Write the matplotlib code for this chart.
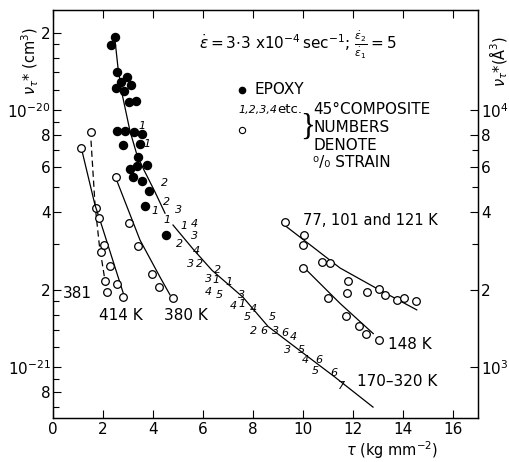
import matplotlib
matplotlib.use("Agg")
import matplotlib.pyplot as plt
from matplotlib.ticker import FixedLocator, FixedFormatter, NullFormatter

plt.rcParams['font.family'] = ['DejaVu Sans']
plt.rcParams['mathtext.fontset'] = 'dejavusans'

# ---------------- data ----------------
# Epoxy (filled dots), tau in kg/mm^2, nu* in units of 1e-21 cm^3
epoxy_x = [2.48, 2.32, 2.56, 2.96, 2.72, 2.52, 2.84, 3.12, 3.04, 3.32, 2.56, 2.88, 3.24,
           3.56, 2.80, 3.48, 3.40, 3.08, 3.36, 3.76, 3.20, 3.56, 3.84, 3.68, 4.52]
epoxy_y = [19.2, 17.9, 14.1, 13.4, 12.8, 12.2, 11.9, 12.5, 10.7, 10.8, 8.28, 8.28, 8.21,
           8.07, 7.31, 7.37, 6.56, 5.89, 6.05, 6.11, 5.49, 5.29, 4.84, 4.23, 3.26]
epoxy_fit_x = [2.48, 2.60, 2.76, 3.08, 3.36, 3.64, 4.08, 4.48]
epoxy_fit_y = [18.7, 14.6, 11.6, 8.28, 6.68, 5.84, 4.80, 3.97]

# 381 K (dashed)
k381_x = [1.51, 1.71, 1.91, 2.08, 2.15]
k381_y = [8.21, 4.16, 2.80, 2.16, 1.96]
k381_fit_x = [1.52, 1.68, 1.85, 2.12]
k381_fit_y = [7.6, 4.3, 3.0, 2.05]

# 414 K
k414_x = [1.11, 1.84, 2.05, 2.28, 2.57, 2.81]
k414_y = [7.11, 3.80, 2.98, 2.47, 2.10, 1.87]
k414_fit_x = [1.12, 1.68, 1.88, 2.81]
k414_fit_y = [7.2, 4.27, 3.73, 1.94]

# 380 K
k380_x = [2.52, 3.05, 3.39, 3.95, 4.25, 4.81]
k380_y = [5.47, 3.62, 2.96, 2.30, 2.05, 1.85]
k380_fit_x = [2.56, 3.48, 4.28, 4.68]
k380_fit_y = [5.29, 3.12, 2.24, 1.91]

# 77, 101 and 121 K
k77_x = [9.28, 10.05, 10.01, 10.75, 11.08, 11.81, 11.77, 12.55, 13.04, 13.28, 13.75, 14.05, 14.52]
k77_y = [3.68, 3.26, 2.98, 2.57, 2.53, 2.16, 1.95, 1.96, 2.01, 1.91, 1.82, 1.85, 1.80]
k77_fit_x = [9.3, 10.4, 11.48, 13.0, 14.55]
k77_fit_y = [3.54, 2.93, 2.43, 2.01, 1.67]

# 148 K
k148_x = [10.01, 11.01, 11.72, 12.24, 12.51, 13.05]
k148_y = [2.43, 1.86, 1.58, 1.44, 1.35, 1.27]
k148_fit_x = [10.15, 11.48, 12.81]
k148_fit_y = [2.38, 1.77, 1.35]

# 45 deg composite, 170-320 K: numbers denote % strain
comp_x = [3.57, 3.75, 4.48, 4.55, 5.01, 4.08, 4.55, 5.25, 5.66, 5.66, 5.05, 5.75, 5.51, 5.85,
          6.57, 6.24, 6.52, 7.05, 6.21, 6.65, 7.55, 7.21, 7.55, 8.01, 7.79, 8.79, 8.01, 8.45,
          8.91, 9.28, 9.61, 9.37, 9.92, 10.08, 10.64, 10.48, 11.25, 11.56]
comp_y = [8.67, 7.38, 5.21, 4.40, 4.08, 4.05, 3.73, 3.54, 3.60, 3.23, 3.01, 2.83, 2.51, 2.51,
          2.38, 2.21, 2.18, 2.14, 1.96, 1.91, 1.91, 1.73, 1.76, 1.68, 1.56, 1.56, 1.38, 1.38,
          1.38, 1.36, 1.31, 1.17, 1.17, 1.07, 1.07, 0.968, 0.945, 0.843]
comp_n = ['1', '1', '2', '2', '3', '1', '1', '1', '4', '3', '2', '4', '3', '2',
          '2', '3', '1', '1', '4', '5', '3', '4', '1', '4', '5', '5', '2', '6',
          '3', '6', '4', '3', '5', '4', '6', '5', '6', '7']
comp_fit_x = [4.8, 5.6, 6.36, 7.6, 8.6, 9.72, 11.28, 12.8]
comp_fit_y = [3.57, 2.88, 2.38, 1.87, 1.44, 1.19, 0.914, 0.699]

x_ticks = [0, 2, 4, 6, 8, 10, 12, 14, 16]
SCALE = 1e-21

# ---------------- figure ----------------
fig = plt.figure(figsize=(5.10, 4.62), dpi=100)
ax = fig.add_axes([53/510, 44/462, 425/510, 408/462])

def s(v):
    return [e * SCALE for e in v]

lw = 0.9
ax.plot(epoxy_fit_x, s(epoxy_fit_y), '-', color='black', lw=lw)
ax.plot(epoxy_x, s(epoxy_y), 'o', color='black', ms=5.8, mec='black')

for fx, fy, px, py, ls in [(k381_fit_x, k381_fit_y, k381_x, k381_y, (0, (5, 3))),
                           (k414_fit_x, k414_fit_y, k414_x, k414_y, '-'),
                           (k380_fit_x, k380_fit_y, k380_x, k380_y, '-'),
                           (k77_fit_x, k77_fit_y, k77_x, k77_y, '-'),
                           (k148_fit_x, k148_fit_y, k148_x, k148_y, '-')]:
    ax.plot(fx, s(fy), color='black', lw=lw, linestyle=ls)
    ax.plot(px, s(py), 'o', mfc='white', mec='black', ms=5.5, mew=0.9)

ax.plot(comp_fit_x, s(comp_fit_y), '-', color='black', lw=lw)
for x, y, n in zip(comp_x, comp_y, comp_n):
    ax.text(x, y * SCALE, n, fontsize=8, style='italic', ha='center', va='center')

ax.set_yscale('log')
ax.set_xlim(0, 17)
ax.set_ylim(6.34e-22, 2.449e-20)

ax.xaxis.set_major_locator(FixedLocator(x_ticks))
ax.xaxis.set_major_formatter(FixedFormatter([str(t) for t in x_ticks]))
ax.xaxis.set_minor_locator(FixedLocator([]))

ly_major = [8e-22, 1e-21, 2e-21, 4e-21, 6e-21, 8e-21, 1e-20, 2e-20]
ly_labels = ['8', r'$10^{-21}$', '2', '4', '6', '8', r'$10^{-20}$', '2']
ly_minor = [7e-22, 9e-22, 1.2e-21, 1.4e-21, 1.6e-21, 1.8e-21, 3e-21, 5e-21, 7e-21, 9e-21,
            1.2e-20, 1.4e-20, 1.6e-20, 1.8e-20]
ax.yaxis.set_major_locator(FixedLocator(ly_major))
ax.yaxis.set_major_formatter(FixedFormatter(ly_labels))
ax.yaxis.set_minor_locator(FixedLocator(ly_minor))
ax.yaxis.set_minor_formatter(NullFormatter())

ax.tick_params(axis='both', which='major', direction='in', length=6, width=0.8,
               labelsize=11, top=True, right=False)
ax.tick_params(axis='both', which='minor', direction='in', length=4, width=0.8,
               top=True, right=False)
ax.tick_params(axis='x', pad=3)
ax.tick_params(axis='y', pad=1.5)

ax2 = ax.twinx()
ax2.set_yscale('log')
ax2.set_ylim(6.34e-22 * 1e24, 2.449e-20 * 1e24)
ry_major = [1e3, 2e3, 4e3, 6e3, 8e3, 1e4]
ry_labels = [r'$10^{3}$', '2', '4', '6', '8', r'$10^{4}$']
ax2.yaxis.set_major_locator(FixedLocator(ry_major))
ax2.yaxis.set_major_formatter(FixedFormatter(ry_labels))
ax2.yaxis.set_minor_locator(FixedLocator([3e3, 5e3, 7e3]))
ax2.yaxis.set_minor_formatter(NullFormatter())
ax2.tick_params(axis='y', which='major', direction='in', length=6, width=0.8, labelsize=11, pad=2)
ax2.tick_params(axis='y', which='minor', direction='in', length=4, width=0.8)

for sp in list(ax.spines.values()) + list(ax2.spines.values()):
    sp.set_linewidth(0.9)

# axis labels
ax.text(0.798, -0.08, r'$\tau$ (kg mm$^{-2}$)', transform=ax.transAxes, fontsize=10.5,
        ha='center', va='center')
ax.text(-0.052, 0.875, r'$\nu_\tau$* (cm$^3$)', transform=ax.transAxes, fontsize=10.5,
        rotation=90, ha='center', va='center')
ax.text(1.05, 0.875, r'$\nu_\tau$*(Å$^3$)', transform=ax.transAxes, fontsize=10.5,
        rotation=90, ha='center', va='center')

# annotations
ax.text(0.3435, 0.914, r'$\dot{\varepsilon}=3{\cdot}3\ \mathrm{x}10^{-4}\,\mathrm{sec}^{-1}$; '
        r'$\frac{\dot{\varepsilon}_2}{\dot{\varepsilon}_1}=5$',
        transform=ax.transAxes, fontsize=11, ha='left', va='center')
ax.plot([0.444], [0.804], 'o', color='black', ms=4.5, transform=ax.transAxes)
ax.text(0.475, 0.804, 'EPOXY', transform=ax.transAxes, fontsize=11, ha='left', va='center')
ax.text(0.436, 0.755, '1,2,3,4', transform=ax.transAxes, fontsize=8, style='italic',
        ha='left', va='center')
ax.text(0.527, 0.755, 'etc.', transform=ax.transAxes, fontsize=9.5, ha='left', va='center')
ax.plot([0.444], [0.706], 'o', mfc='white', mec='black', ms=4.5, mew=0.8, transform=ax.transAxes)
ax.text(0.6, 0.712, '}', transform=ax.transAxes, fontsize=22, ha='center', va='center',
        family=['Liberation Serif', 'DejaVu Serif'])
ax.text(0.612, 0.755, '45°COMPOSITE', transform=ax.transAxes, fontsize=11, ha='left', va='center')
ax.text(0.612, 0.713, 'NUMBERS', transform=ax.transAxes, fontsize=11, ha='left', va='center')
ax.text(0.612, 0.669, 'DENOTE', transform=ax.transAxes, fontsize=11, ha='left', va='center')
ax.text(0.612, 0.627, '⁰/₀ STRAIN', transform=ax.transAxes, fontsize=11, ha='left', va='center')

ax.text(0.4, 1.94e-21, '381', fontsize=11, ha='left', va='center')
ax.text(2.72, 1.59e-21, '414 K', fontsize=11, ha='center', va='center')
ax.text(5.33, 1.59e-21, '380 K', fontsize=11, ha='center', va='center')
ax.text(10.0, 3.73e-21, '77, 101 and 121 K', fontsize=10.5, ha='left', va='center')
ax.text(13.4, 1.22e-21, '148 K', fontsize=11, ha='left', va='center')
ax.text(12.16, 8.77e-22, '170–320 K', fontsize=11, ha='left', va='center')

fig.savefig('out.png', dpi=100, facecolor='white')
